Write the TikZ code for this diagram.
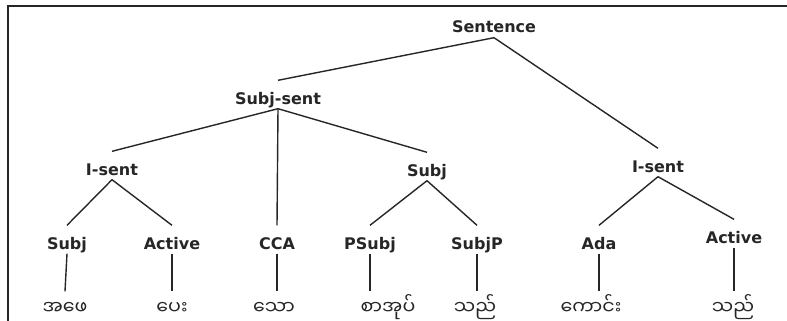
\documentclass[tikz,border=0pt]{standalone}
\usepackage{fontspec}
\setsansfont{DejaVu Sans}
\newfontfamily\mmfont[Script=Myanmar]{Noto Sans Myanmar UI}

\begin{document}
\begin{tikzpicture}[x=1pt,y=-1pt,-,line width=1.4pt,color=black!85,main node/.style={anchor=base,inner xsep=1pt,inner ysep=1pt,text height=22pt,text depth=3pt,font=\sffamily\bfseries\fontsize{16}{18}\selectfont},word node/.style={anchor=base,inner xsep=1pt,inner ysep=1pt,text height=21pt,text depth=3pt,font=\mmfont\fontsize{19}{21}\selectfont}]
                \useasboundingbox (0,0) rectangle (787,321);
                \draw[line width=1.8pt] (787,6) -- (8,6) -- (8,321);

                \node[main node] (0) at (494,33) {Sentence};
                \node[main node] (1) at (278,104) {Subj-sent};
                \node[main node] (2) at (658,172) {I-sent};
                \node[main node] (3) at (112,175) {I-sent};
                \node[main node] (4) at (277,249) {CCA};
                \node[main node] (5) at (427,176) {Subj};
                \node[main node] (6) at (67,249) {Subj};
                \node[main node] (7) at (172,249) {Active};
                \node[main node] (8) at (370,249) {PSubj};
                \node[main node] (9) at (477,249) {SubjP};
                \node[main node] (10) at (599,249) {Ada};
                \node[main node] (11) at (734,243) {Active};

                \node[word node] (12) at (65,314) {အဖေ};
                \node[word node] (13) at (172,314) {ပေး};
                \node[word node] (14) at (274,314) {သော};
                \node[word node] (15) at (388,314) {စာအုပ်};
                \node[word node] (16) at (475,314) {သည်};
                \node[word node] (17) at (591,314) {ကောင်း};
                \node[word node] (18) at (733,314) {သည်};

                \path
                    (0.south) edge (1.north)
                    (0.south) edge (2.north)
                    (1.south) edge (3.north)
                    (1.south) edge (4.north)
                    (1.south) edge (5.north)
                    (3.south) edge (6.north)
                    (3.south) edge (7.north)
                    (5.south) edge (8.north)
                    (5.south) edge (9.north)
                    (2.south) edge (10.north)
                    (2.south) edge (11.north)
                ;

                \path
                    (6.south) edge (12.north)
                    (7.south) edge (7.south |- 13.north)
                    (4.south) edge (4.south |- 14.north)
                    (8.south) edge (8.south |- 15.north)
                    (9.south) edge (9.south |- 16.north)
                    (10.south) edge (10.south |- 17.north)
                    (11.south) edge (11.south |- 18.north)
                ;
            \end{tikzpicture}
\end{document}
